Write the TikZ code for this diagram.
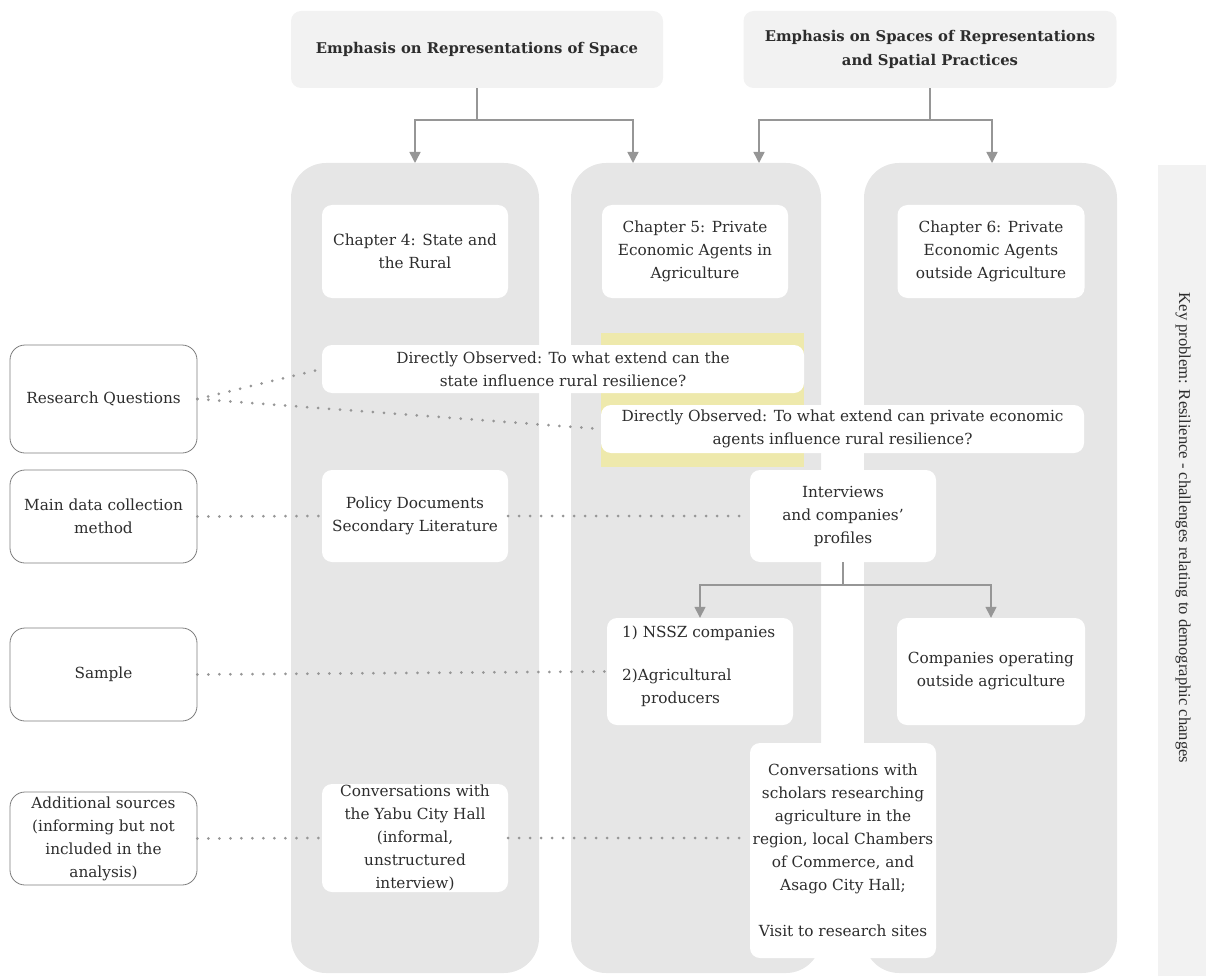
\documentclass[tikz,border=0pt]{standalone}
\usepackage{fontspec}
\setmainfont{DejaVu Serif}
\newfontfamily\sidefont{Liberation Serif}
\usetikzlibrary{arrows.meta,calc}
\definecolor{txt}{RGB}{45,45,45}
\definecolor{colfill}{RGB}{230,230,230}
\definecolor{hdrfill}{RGB}{242,242,242}
\definecolor{linec}{RGB}{150,150,150}
\definecolor{dotc}{RGB}{150,150,150}
\definecolor{hilite}{RGB}{238,233,172}
\definecolor{frame}{RGB}{125,125,125}

\begin{document}
\begin{tikzpicture}[x=1pt,y=-1pt,
  every node/.style={text=txt, font=\fontsize{15.3}{23}\selectfont, align=center, inner sep=0pt},
  header/.style={fill=hdrfill, rounded corners=10pt, font=\bfseries\fontsize{14.8}{24}\selectfont},
  column/.style={fill=colfill, rounded corners=35pt},
  card/.style={fill=white, rounded corners=10pt},
  rowlabel/.style={fill=white, draw=frame, line width=0.8pt, rounded corners=15pt, minimum width=187pt},
  flow/.style={draw=linec, line width=1.5pt},
  arr/.style={flow, -{Triangle[width=11pt,length=11pt]}},
  dots/.style={draw=dotc, line width=3pt, dash pattern=on 0pt off 11pt, line cap=round}
]
\useasboundingbox (0,0) rectangle (1206,976);

% side band with the key problem
\node[fill=hdrfill, minimum width=48pt, minimum height=811pt] (band) at (1182,570.5) {};
\node[rotate=-90, font=\sidefont\fontsize{16.6}{18}\selectfont] (key) at (1183,528)
  {Key problem: Resilience - challenges relating to demographic changes};

% headers
\node[header, minimum width=372pt, minimum height=77pt] (h1) at (477,49.5)
  {Emphasis on Representations of Space};
\node[header, minimum width=373pt, minimum height=77pt] (h2) at (930,49.5)
  {Emphasis on Spaces of Representations\\and Spatial Practices};

% chapter columns
\node[column, minimum width=248pt, minimum height=810pt] (c1) at (415,568) {};
\node[column, minimum width=250pt, minimum height=810pt] (c2) at (696,568) {};
\node[column, minimum width=253pt, minimum height=810pt] (c3) at (990.5,568) {};

% highlight behind the research questions
\fill[hilite] (601,333) rectangle (804,467);

% arrows from the headers
\coordinate (a1) at (415,163);
\coordinate (a2) at (633,163);
\coordinate (a3) at (759,163);
\coordinate (a4) at (992,163);
\draw[flow] (h1.south) -- ++(0,32) coordinate (j1);
\draw[arr] (j1) -| (a1);
\draw[arr] (j1) -| (a2);
\draw[flow] (h2.south) -- ++(0,32) coordinate (j2);
\draw[arr] (j2) -| (a3);
\draw[arr] (j2) -| (a4);

% chapter titles
\node[card, minimum width=186pt, minimum height=93pt] (ch4) at (415,251.5)
  {Chapter 4: State and\\the Rural};
\node[card, minimum width=186pt, minimum height=93pt] (ch5) at (695,251.5)
  {Chapter 5: Private\\Economic Agents in\\Agriculture};
\node[card, minimum width=187pt, minimum height=93pt] (ch6) at (991,251.5)
  {Chapter 6: Private\\Economic Agents\\outside Agriculture};

% research questions
\node[card, minimum width=482pt, minimum height=48pt] (rq1) at (563,369)
  {Directly Observed: To what extend can the\\state influence rural resilience?};
\node[card, minimum width=483pt, minimum height=48pt] (rq2) at (842.5,429)
  {Directly Observed: To what extend can private economic\\agents influence rural resilience?};

% data collection
\node[card, minimum width=186pt, minimum height=92pt] (pol) at (415,516)
  {Policy Documents\\Secondary Literature};
\node[card, minimum width=186pt, minimum height=92pt] (iv) at (843,516)
  {Interviews\\and companies'\\profiles};

% samples
\node[card, minimum width=186pt, minimum height=107pt] (ns) at (700,671.5) {};
\node[align=left, anchor=north west] (nstext) at (622,626)
  {1) NSSZ companies\\[20pt]2)Agricultural\\\hspace*{19pt}producers};
\node[card, minimum width=188pt, minimum height=107pt] (co) at (991,671.5)
  {Companies operating\\outside agriculture};

% additional sources
\node[card, minimum width=186pt, minimum height=108pt] (yabu) at (415,838)
  {Conversations with\\the Yabu City Hall\\(informal,\\unstructured\\interview)};
\node[card, minimum width=186pt, minimum height=215pt] (sch) at (843,850.5)
  {Conversations with\\scholars researching\\agriculture in the\\region, local Chambers\\of Commerce, and\\Asago City Hall;\\[23pt]Visit to research sites};

% arrows to the samples
\draw[flow] (iv.south) -- ++(0,23) coordinate (j3);
\draw[arr] (j3) -| (ns.north);
\draw[arr] (j3) -| (co.north);

% row labels
\node[rowlabel, minimum height=108pt] (rq) at (103.5,399) {Research Questions};
\node[rowlabel, minimum height=93pt] (dm) at (103.5,516.5) {Main data collection\\method};
\node[rowlabel, minimum height=93pt] (sm) at (103.5,674.5) {Sample};
\node[rowlabel, minimum height=93pt] (ad) at (103.5,838.5)
  {Additional sources\\(informing but not\\included in the\\analysis)};

% dotted links
\draw[dots] (rq.east) -- (rq1.west);
\draw[dots] (rq.east) -- (rq2.west);
\draw[dots] (dm.east) -- (pol.west);
\draw[dots] (pol.east) -- (iv.west);
\draw[dots] (sm.east) -- (ns.west);
\draw[dots] (ad.east) -- (yabu.west);
\draw[dots] (yabu.east) -- (sch.west |- yabu.east);
\end{tikzpicture}
\end{document}
